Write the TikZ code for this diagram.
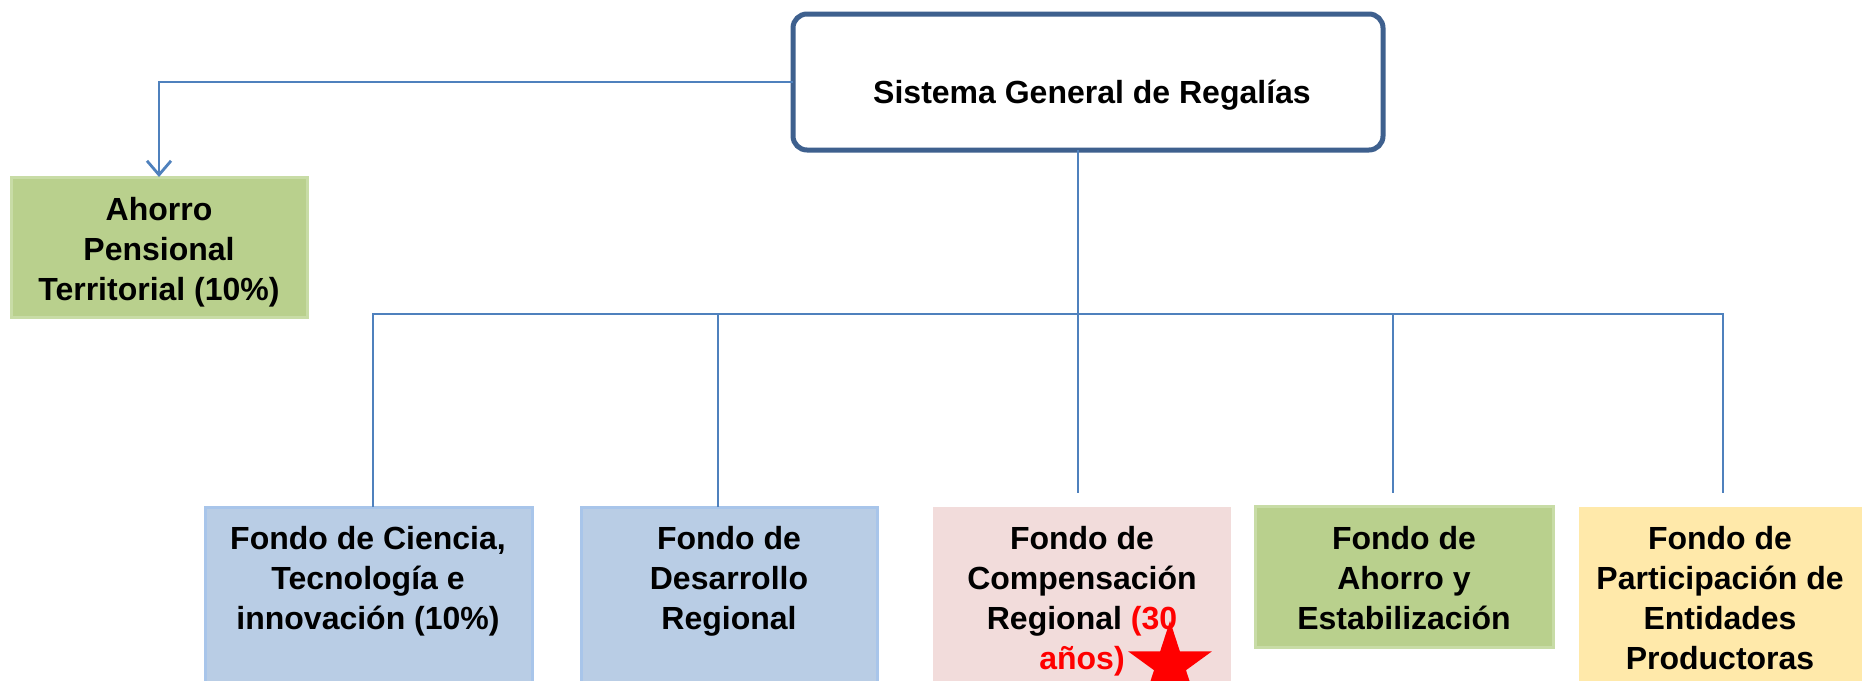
\documentclass[tikz,border=0pt]{standalone}
\usepackage{fontspec}
\setmainfont{Liberation Sans}
\usetikzlibrary{arrows.meta,shapes.geometric}
\definecolor{conncol}{RGB}{79,129,189}
\definecolor{topborder}{RGB}{62,96,142}
\definecolor{bluefill}{RGB}{185,205,229}
\definecolor{blueline}{RGB}{168,197,234}
\definecolor{pinkfill}{RGB}{242,220,219}
\definecolor{greenfill}{RGB}{185,208,141}
\definecolor{greenline}{RGB}{200,220,166}
\definecolor{yellowfill}{RGB}{255,233,170}
\definecolor{starred}{RGB}{255,0,0}
\begin{document}
\begin{tikzpicture}[x=1pt,y=-1pt,
  conn/.style={draw=conncol, line width=2.8pt},
  boxbase/.style={rectangle, inner sep=0pt, outer sep=0pt, anchor=north west, line width=3pt},
  bluebox/.style={boxbase, fill=bluefill, draw=blueline},
  pinkbox/.style={boxbase, fill=pinkfill},
  greenbox/.style={boxbase, fill=greenfill, draw=greenline},
  yellowbox/.style={boxbase, fill=yellowfill},
  topbox/.style={rectangle, rounded corners=14pt, draw=topborder, line width=5pt, fill=white, inner sep=0pt, outer sep=0pt, anchor=north west},
  lbl/.style={font=\fontsize{32}{40}\selectfont\bfseries, align=center, inner sep=0pt, anchor=north},
]
\clip (0,0) rectangle (1862,680);
\fill[white] (0,0) rectangle (1862,680);

% boxes
\node[topbox, minimum width=590pt, minimum height=136pt] (sgr) at (793,14) {};
\node[greenbox, minimum width=296pt, minimum height=140pt] (ahorro) at (11,177) {};
\node[bluebox, minimum width=327pt, minimum height=200pt] (b1) at (205,507) {};
\node[bluebox, minimum width=296pt, minimum height=200pt] (b2) at (581,507) {};
\node[pinkbox, minimum width=298pt, minimum height=200pt] (b3) at (933,507) {};
\node[greenbox, minimum width=298pt, minimum height=141pt] (b4) at (1255,506) {};
\node[yellowbox, minimum width=300pt, minimum height=200pt] (b5) at (1579,507) {};

% texts
\node[font=\fontsize{32}{40}\selectfont\bfseries, inner sep=0pt, anchor=base] (tsgr) at (1092,103) {Sistema General de Regalías};
\node[lbl] (tA) at (159,197) {Ahorro\\Pensional\\Territorial (10\%)};
\node[lbl] (t1) at (368,526) {Fondo de Ciencia,\\Tecnología e\\innovación (10\%)};
\node[lbl] (t2) at (729,526) {Fondo de\\Desarrollo\\Regional};
\node[lbl] (t3) at (1082,526) {Fondo de\\Compensación\\Regional \textcolor{starred}{(30}\\\textcolor{starred}{años)}};
\node[lbl] (t4) at (1404,526) {Fondo de\\Ahorro y\\Estabilización};
\node[lbl] (t5) at (1720,526) {Fondo de\\Participación de\\Entidades\\Productoras};

\node[star, star points=5, star point ratio=2.618, fill=starred, minimum size=88pt, inner sep=0pt] (star) at (1170,665) {};

% connector coordinates
\coordinate (busy) at (0,314);
\coordinate (e1) at (373,507);
\coordinate (e2) at (718,507);
\coordinate (e3) at (1078,493);
\coordinate (e4) at (1393,493);
\coordinate (e5) at (1723,493);

% connectors
\draw[conn, -{Straight Barb[length=14pt,width=24pt]}] (sgr.west) -| (ahorro.north);
\draw[conn] (e1) -- (e1 |- busy) -- (e5 |- busy) -- (e5);
\draw[conn] (e2 |- busy) -- (e2);
\draw[conn] (sgr.south -| e3) -- (e3);
\draw[conn] (e4 |- busy) -- (e4);
\end{tikzpicture}
\end{document}
